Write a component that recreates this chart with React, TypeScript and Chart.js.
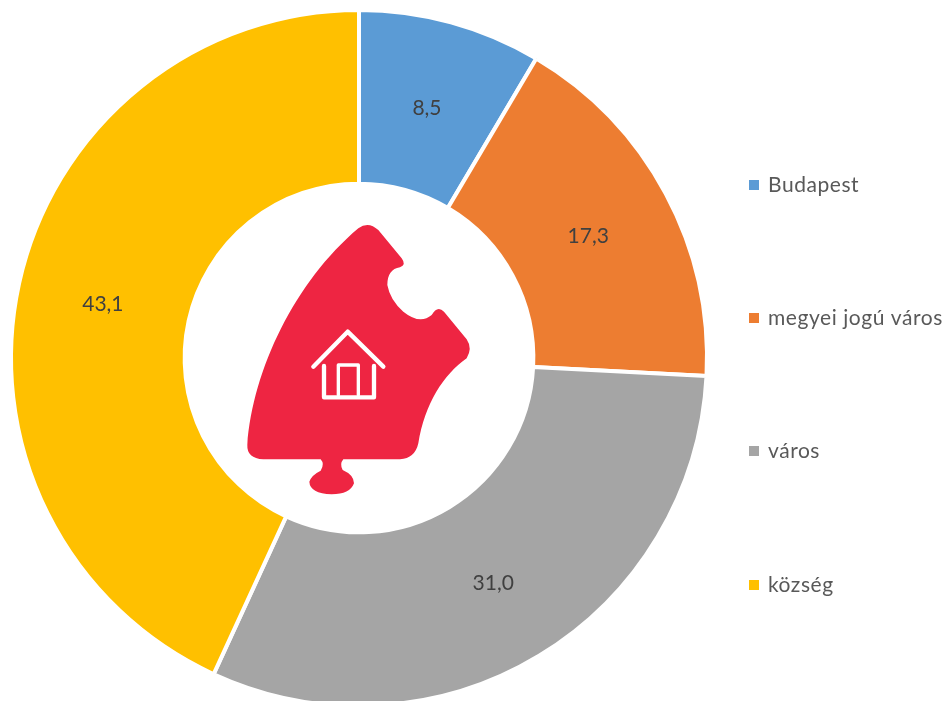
import React, { useEffect, useRef } from "react";
import { Chart, registerables } from "chart.js";

Chart.register(...registerables);

const categories = ["Budapest", "megyei jogú város", "város", "község"];
const shareValues = [8.5, 17.3, 31.0, 43.1];
const sliceColors = ["#5B9BD5", "#ED7D31", "#A5A5A5", "#FFC000"];
const legendRows = [185, 318, 451, 585];
const FONT = 'Lato, "Open Sans", sans-serif';

const formatValue = (v: number) => v.toFixed(1).replace(".", ",");

const labelPlugin = {
  id: "labelsAndLegend",
  afterDatasetsDraw(chart: any) {
    const ctx = chart.ctx;
    const meta = chart.getDatasetMeta(0);
    ctx.save();
    ctx.textBaseline = "middle";
    ctx.font = `21px ${FONT}`;
    ctx.textAlign = "center";
    ctx.fillStyle = "#404040";
    meta.data.forEach((arc: any, i: number) => {
      const p = arc.getCenterPoint();
      ctx.fillText(formatValue(shareValues[i]), p.x - 1, p.y + 2);
    });
    ctx.textAlign = "left";
    ctx.letterSpacing = "0.55px";
    categories.forEach((name, i) => {
      ctx.fillStyle = sliceColors[i];
      ctx.fillRect(749, legendRows[i] - 5, 10, 10);
      ctx.fillStyle = "#595959";
      ctx.fillText(name, 768, legendRows[i]);
    });
    ctx.restore();
  },
};

export default function App() {
  const ref = useRef<HTMLCanvasElement>(null);
  useEffect(() => {
    document.body.style.margin = "0";
    document.body.style.background = "#fff";
    const chart = new Chart(ref.current!, {
      type: "doughnut",
      data: {
        labels: categories,
        datasets: [
          {
            data: shareValues,
            backgroundColor: sliceColors,
            borderColor: "#ffffff",
            borderWidth: 4,
          },
        ],
      },
      options: {
        responsive: false,
        animation: false,
        cutout: "50.1%",
        layout: { padding: { left: 9, right: 238, top: 8, bottom: 12 } },
        plugins: { legend: { display: false }, tooltip: { enabled: false } },
      },
      plugins: [labelPlugin],
    } as any);
    return () => chart.destroy();
  }, []);

  return (
    <div style={{ position: "relative", width: 947, height: 701, overflow: "hidden" }}>
      <canvas ref={ref} width={947} height={720} style={{ display: "block" }} />
      <svg
        viewBox="0 0 750 870"
        width={250}
        height={290}
        style={{ position: "absolute", left: 230, top: 210 }}
      >
        <path
          fill="#EE2542"
          d="M385 55 Q415 32 445 60 L515 145 Q530 165 510 172 Q472 178 472 225 Q480 270 520 305 Q570 345 605 315 Q622 285 642 305 L710 388 Q728 415 710 445 C640 495 585 580 565 700 Q555 745 510 748 L340 748 Q328 762 338 780 Q372 795 372 820 Q360 853 305 853 Q240 850 238 815 Q245 795 272 782 Q285 762 272 748 L100 748 Q50 745 52 705 C68 480 195 215 385 55 Z"
        />
        <g fill="none" stroke="#fff" strokeWidth={13} strokeLinecap="round" strokeLinejoin="round">
          <path d="M250 470 L353 365 L460 470" />
          <path d="M282 468 V562 H432 V468" />
          <path d="M325 555 V465 H385 V555" strokeWidth={10} />
        </g>
      </svg>
    </div>
  );
}
